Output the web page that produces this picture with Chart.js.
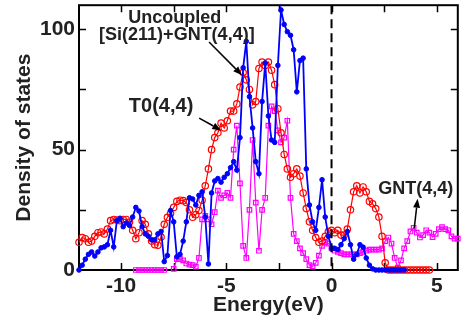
<!DOCTYPE html>
<html>
<head>
<meta charset="utf-8">
<script src="https://cdn.jsdelivr.net/npm/chart.js@4.4.1/dist/chart.umd.min.js"></script>
<style>
  html, body { margin: 0; padding: 0; background: #fff; }
  canvas { display: block; }
</style>
</head>
<body>
<canvas id="dos-chart" width="463" height="325"></canvas>
<script>
// energy grid (eV)
const energy = [
  -12.00, -11.85, -11.70, -11.55, -11.40, -11.25, -11.10, -10.95, -10.80, -10.65,
  -10.50, -10.35, -10.20, -10.05, -9.90, -9.75, -9.60, -9.45, -9.30, -9.15,
  -9.00, -8.85, -8.70, -8.55, -8.40, -8.25, -8.10, -7.95, -7.80, -7.65,
  -7.50, -7.35, -7.20, -7.05, -6.90, -6.75, -6.60, -6.45, -6.30, -6.15,
  -6.00, -5.85, -5.70, -5.55, -5.40, -5.25, -5.10, -4.95, -4.80, -4.65,
  -4.50, -4.35, -4.20, -4.05, -3.90, -3.75, -3.60, -3.45, -3.30, -3.15,
  -3.00, -2.85, -2.70, -2.55, -2.40, -2.25, -2.10, -1.95, -1.80, -1.65,
  -1.50, -1.35, -1.20, -1.05, -0.90, -0.75, -0.60, -0.45, -0.30, -0.15,
  0.00, 0.15, 0.30, 0.45, 0.60, 0.75, 0.90, 1.05, 1.20, 1.35,
  1.50, 1.65, 1.80, 1.95, 2.10, 2.25, 2.40, 2.55, 2.70, 2.85,
  3.00, 3.15, 3.30, 3.45, 3.60, 3.75, 3.90, 4.05, 4.20, 4.35,
  4.50, 4.65, 4.80, 4.95, 5.10, 5.25, 5.40, 5.55, 5.70, 5.85,
  6.00
];

// Uncoupled [Si(211)+GNT(4,4)]
const uncoupled = [
  0, 2, 4.5, 6.5, 7.5, 5.8, 7.5, 9.2, 9.6, 10.5,
  16.5, 9.6, 20.5, 21.5, 18, 19.5, 18.5, 22, 26, 24.5,
  18, 15, 14, 12.5, 12.5, 15, 16, 3.5, 6, 24.7,
  20, 5.5, 6.5, 12, 20, 30, 29.5, 27, 31, 32.5,
  22, 2.5, 32, 37, 38, 36.5, 38.5, 40, 42.5, 45,
  41.5, 55, 84, 95, 72, 59, 45, 40, 70, 86,
  64, 54, 53, 85, 108, 102, 99, 97.5, 91.5, 74,
  87, 88, 42, 27, 20, 16.5, 26, 37.5, 22, 14,
  9, 9, 8.5, 10.5, 13, 16, 10.5, 4.5, 6.5, 10.5,
  9.5, 5, 2, 0.5, 0, 0, 0, 0, 0, 0,
  0, 0, 0, 0, null, null, null, null, null, null,
  null, null, null, null, null, null, null, null, null, null,
  null
];

// T0(4,4)
const t0 = [
  11.5, 13.5, 13, 11.5, 12, 14, 15.5, 15.8, 15, 17,
  20.5, 21, 20.8, 20.5, 21, 21, 19.9, 16.5, 13, 15.5,
  20.5, 19, 15, 12, 10.5, 10.3, 13.7, 19, 21.9, 23.5,
  26, 28.5, 29, 28.8, 28, 25, 21.9, 23, 24.7, 29,
  35, 42, 50, 55, 57, 61, 59, 62, 66, 66,
  69, 76, 82, 79, 75, 68.6, 70, 83.7, 86.4, 85,
  86.4, 83, 77, 67, 57, 48, 42, 38.5, 40, 42,
  39, 32, 25.5, 20, 16.5, 13.5, 11.5, 12, 14, 16,
  16.5, 15.5, 16.5, 14.5, 14.5, 17, 25, 32.5, 35, 32,
  34.5, 32.5, 28.5, 27.5, 25.5, 22, 14, 3, 0, 0,
  0, 0, 0, 0, 0, 0, 0, 0, 0, 0,
  0, 0, null, null, null, null, null, null, null, null,
  null
];

// GNT(4,4)
const gnt = [
  null, null, null, null, null, null, null, null, null, null,
  null, null, null, null, null, null, null, null, 0, 0,
  0, 0, 0, 0, 0, 0, 0, 0, null, null,
  0.5, 4.5, 4.5, 4, 2.7, 2.2, 2, 1.4, 5, 21,
  22.5, 21, 19, 24, 33, 30, 31, 32, 30, 50,
  60, 36, 10, 5, 25, 54, 28, 8, 25, 30,
  60, 68, 66, 58, 53, 55, 62, 30, 15, 12,
  9, 7, 4.5, 2, 1.5, 3, 6, 10, 11.5, 11,
  9, 8, 7.5, 7, 6.5, 6.5, 6.5, 6.5, 6.5, 7,
  7.5, 8, 8.5, 8.5, 8.5, 8.5, 9, 12, 13.5, 11,
  5, 1, 4, 9, 12, 16, 17.5, 15.5, 13.5, 14.5,
  16.5, 15.5, 13.7, 15, 17, 17.8, 17, 16.5, 14, 13,
  13
];

const xTickValues = [-10, -7.5, -5, -2.5, 0, 2.5, 5];
const xTickLabels = [-10, -5, 0, 5];
const yTickValues = [0, 25, 50, 75, 100];
const yTickLabels = [0, 50, 100];

const FONT = '"Liberation Sans", Arial, sans-serif';
const INK = '#222';

// labels and arrows, in data units
const notes = [
  { text: 'Uncoupled', x: -7.45, y: 102.8, size: 18 },
  { text: '[Si(211)+GNT(4,4)]', x: -7.35, y: 95.4, size: 18 },
  { text: 'T0(4,4)', x: -8.1, y: 65.6, size: 20 },
  { text: 'GNT(4,4)', x: 4.0, y: 31.5, size: 18 }
];
const arrows = [
  { from: [-5.82, 94.7], to: [-4.25, 80.9] },
  { from: [-6.29, 63.1], to: [-5.24, 58.0] },
  { from: [3.93, 17.3], to: [4.09, 29.6] }
];

function pts(vals) {
  return energy.map((e, i) => ({ x: e, y: vals[i] }));
}

const decorations = {
  id: 'decorations',
  beforeDatasetsDraw(chart) {
    const { ctx, chartArea: a, scales: { x, y } } = chart;
    ctx.save();
    ctx.strokeStyle = '#000';
    ctx.lineWidth = 2;
    ctx.strokeRect(a.left, a.top, a.right - a.left, a.bottom - a.top);

    // inward ticks on all four sides
    ctx.lineWidth = 1.5;
    ctx.beginPath();
    x.ticks.forEach(t => {
      const px = Math.round(x.getPixelForValue(t.value)) + 0.5;
      ctx.moveTo(px, a.bottom); ctx.lineTo(px, a.bottom - 7);
      ctx.moveTo(px, a.top); ctx.lineTo(px, a.top + 7);
    });
    y.ticks.forEach(t => {
      if (t.value === 0) return;
      const py = Math.round(y.getPixelForValue(t.value)) + 0.5;
      ctx.moveTo(a.left, py); ctx.lineTo(a.left + 7, py);
      ctx.moveTo(a.right, py); ctx.lineTo(a.right - 7, py);
    });
    ctx.stroke();
    ctx.restore();
  },
  afterDatasetsDraw(chart) {
    const { ctx, chartArea: a, scales: { x, y } } = chart;
    ctx.save();

    // Fermi level
    const x0 = x.getPixelForValue(0);
    ctx.strokeStyle = '#000';
    ctx.lineWidth = 2;
    ctx.setLineDash([9, 5]);
    ctx.beginPath();
    ctx.moveTo(x0, a.top);
    ctx.lineTo(x0, a.bottom);
    ctx.stroke();
    ctx.setLineDash([]);

    ctx.fillStyle = INK;
    ctx.textAlign = 'center';
    ctx.textBaseline = 'alphabetic';
    notes.forEach(n => {
      ctx.font = 'bold ' + n.size + 'px ' + FONT;
      ctx.fillText(n.text, x.getPixelForValue(n.x), y.getPixelForValue(n.y));
    });

    ctx.strokeStyle = '#000';
    ctx.fillStyle = '#000';
    ctx.lineWidth = 1.5;
    arrows.forEach(ar => {
      const x1 = x.getPixelForValue(ar.from[0]), y1 = y.getPixelForValue(ar.from[1]);
      const x2 = x.getPixelForValue(ar.to[0]), y2 = y.getPixelForValue(ar.to[1]);
      const ang = Math.atan2(y2 - y1, x2 - x1);
      const len = 9, half = 3.5;
      const bx = x2 - len * Math.cos(ang), by = y2 - len * Math.sin(ang);
      ctx.beginPath();
      ctx.moveTo(x1, y1);
      ctx.lineTo(bx, by);
      ctx.stroke();
      ctx.beginPath();
      ctx.moveTo(x2, y2);
      ctx.lineTo(bx + half * Math.sin(ang), by - half * Math.cos(ang));
      ctx.lineTo(bx - half * Math.sin(ang), by + half * Math.cos(ang));
      ctx.closePath();
      ctx.fill();
    });
    ctx.restore();
  }
};

const ctx = document.getElementById('dos-chart').getContext('2d');

window.dosChart = new Chart(ctx, {
  type: 'line',
  data: {
    datasets: [
      {
        label: 'Uncoupled [Si(211)+GNT(4,4)]',
        data: pts(uncoupled),
        borderColor: '#0000ff',
        backgroundColor: '#0000ff',
        borderWidth: 1.8,
        pointRadius: 2.3,
        pointBorderWidth: 1,
        pointStyle: 'circle',
        order: 0,
        clip: false
      },
      {
        label: 'T0(4,4)',
        data: pts(t0),
        borderColor: '#ff0000',
        backgroundColor: 'rgba(255,255,255,0)',
        pointBackgroundColor: 'rgba(255,255,255,0)',
        borderWidth: 1.2,
        pointRadius: 3.2,
        pointBorderWidth: 1.2,
        pointStyle: 'circle',
        order: 1,
        clip: false
      },
      {
        label: 'GNT(4,4)',
        data: pts(gnt),
        borderColor: '#ff00ff',
        backgroundColor: 'rgba(255,255,255,0)',
        pointBackgroundColor: 'rgba(255,255,255,0)',
        borderWidth: 1.2,
        pointRadius: 3.2,
        pointBorderWidth: 1.2,
        pointStyle: 'rect',
        order: 2,
        clip: false
      }
    ]
  },
  options: {
    responsive: false,
    animation: false,
    devicePixelRatio: 1,
    spanGaps: false,
    elements: { line: { tension: 0 } },
    layout: { padding: { top: 2, right: 2, left: 0, bottom: 0 } },
    plugins: {
      legend: { display: false },
      tooltip: { enabled: false }
    },
    scales: {
      x: {
        type: 'linear',
        min: -12,
        max: 6,
        afterBuildTicks: s => { s.ticks = xTickValues.map(v => ({ value: v })); },
        afterFit: s => { s.height = 55; s.paddingLeft = 0; s.paddingRight = 0; },
        grid: { display: true, drawOnChartArea: false, drawTicks: false },
        border: { display: false },
        ticks: {
          autoSkip: false,
          maxRotation: 0,
          padding: 4,
          color: INK,
          font: { family: FONT, size: 21, weight: 'bold' },
          callback: v => (xTickLabels.includes(v) ? String(v) : '')
        },
        title: {
          display: true,
          text: 'Energy(eV)',
          color: INK,
          font: { family: FONT, size: 21, weight: 'bold' },
          padding: { top: 0, bottom: 7 }
        }
      },
      y: {
        type: 'linear',
        min: 0,
        max: 110,
        afterBuildTicks: s => { s.ticks = yTickValues.map(v => ({ value: v })); },
        afterFit: s => { s.width = 79; s.paddingTop = 0; s.paddingBottom = 0; },
        grid: { display: true, drawOnChartArea: false, drawTicks: false },
        border: { display: false },
        ticks: {
          padding: 4,
          color: INK,
          font: { family: FONT, size: 21, weight: 'bold' },
          callback: v => (yTickLabels.includes(v) ? String(v) : '')
        },
        title: {
          display: true,
          text: 'Density of states',
          color: INK,
          font: { family: FONT, size: 21, weight: 'bold' },
          padding: { top: 12, bottom: 0 }
        }
      }
    }
  },
  plugins: [decorations]
});
</script>
</body>
</html>
